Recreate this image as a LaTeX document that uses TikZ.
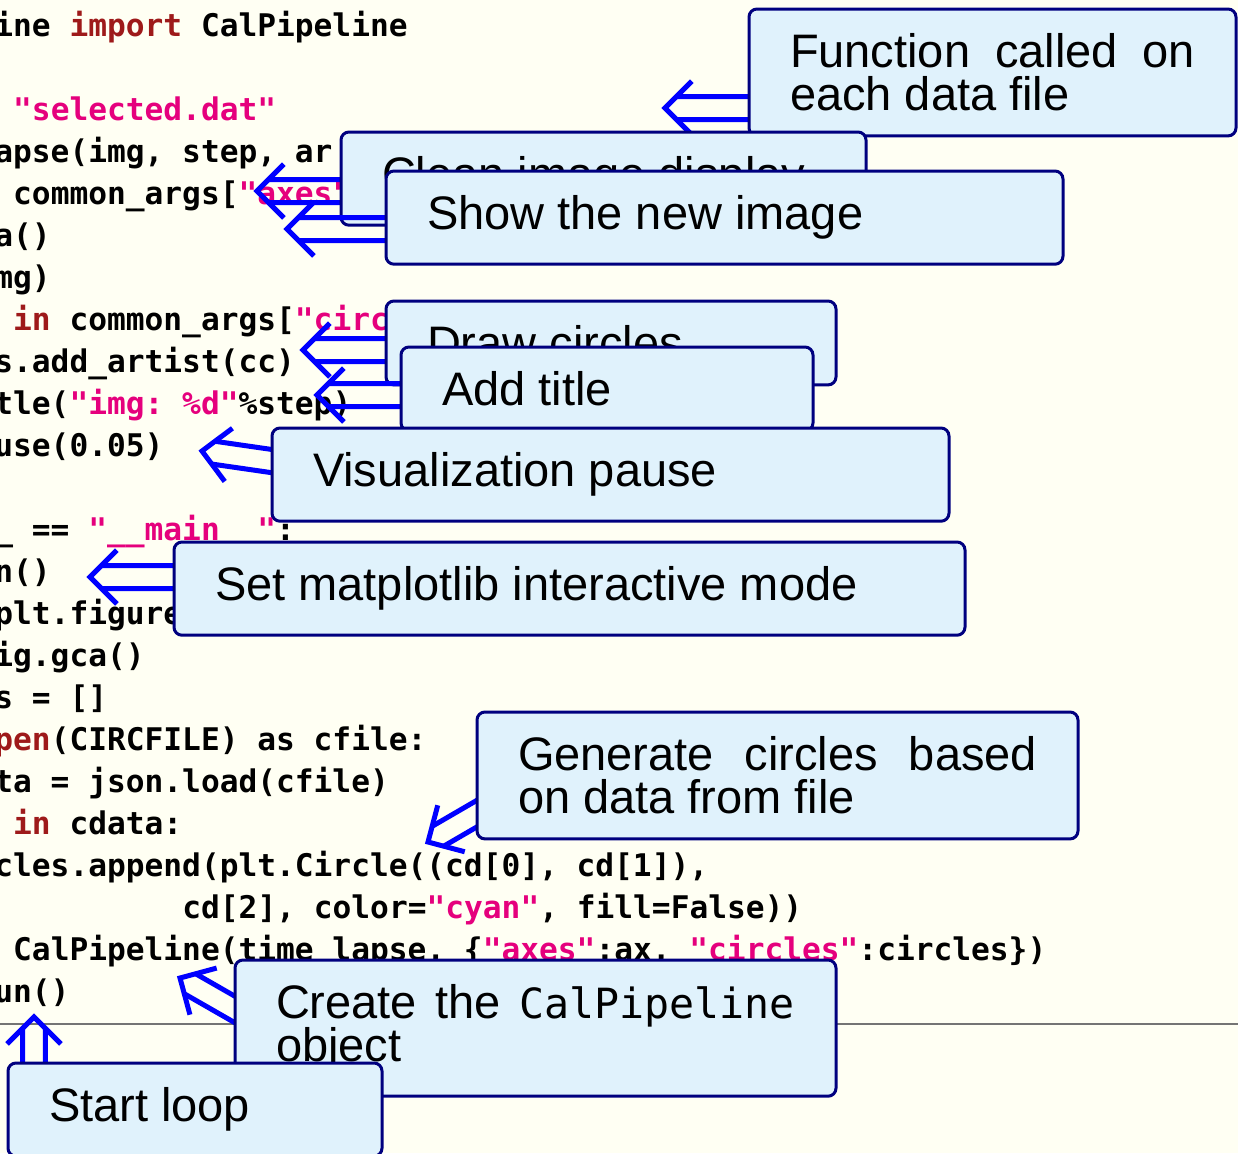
\documentclass[tikz,border=0pt]{standalone}
\usepackage{fontspec}
\setsansfont{Liberation Sans}
\setmonofont{DejaVu Sans Mono}
\usetikzlibrary{calc}
\definecolor{cBack}{HTML}{FFFFF3}
\definecolor{cBox}{HTML}{E0F2FC}
\definecolor{cEdge}{HTML}{00007F}
\definecolor{cArrow}{HTML}{0000FF}
\definecolor{cKey}{HTML}{9E1A1A}
\definecolor{cStr}{HTML}{E5007D}
\definecolor{cRule}{HTML}{747474}

\newcommand{\pykw}[1]{\textcolor{cKey}{#1}}
\newcommand{\pystr}[1]{\textcolor{cStr}{#1}}
\newcommand{\pipett}[1]{{\ttfamily\fontsize{20.8pt}{21.5pt}\selectfont #1}}
\newcommand{\calloutfont}{\sffamily\fontsize{23.5pt}{21.5pt}\selectfont
  \tolerance=9999\relax \hyphenpenalty=10000\relax}
% two parallel strokes and an open chevron, from #1 to #2
\newcommand{\twinarrow}[2]{%
  \draw[twin] ($(#1)!5.75pt!90:(#2)$) -- ($(#2)!8.13pt!-45:(#1)$);
  \draw[twin] ($(#1)!5.75pt!-90:(#2)$) -- ($(#2)!8.13pt!45:(#1)$);
  \draw[twin] ($(#2)!19pt!45:(#1)$) -- (#2) -- ($(#2)!19pt!-45:(#1)$);
}

\begin{document}
\begin{tikzpicture}[
    x=0.5pt, y=-0.5pt,
    codeline/.style={anchor=base west, inner sep=0pt, font=\ttfamily\bfseries\fontsize{15.6pt}{21pt}\selectfont},
    callbox/.style={anchor=north west, draw=cEdge, fill=cBox, line width=1.5pt, rounded corners=4pt, outer sep=0pt,
      inner xsep=20.5pt, inner ysep=12.35pt, align=justify, font=\calloutfont},
    twin/.style={draw=cArrow, line width=2.5pt},
    rulebar/.style={draw=cRule, line width=1pt}
]
\useasboundingbox (0,0) rectangle (1238,1153);
\fill[cBack] (0,0) rectangle (1238,1153);
\clip (0,0) rectangle (1238,1153);

% listing
\foreach \n/\k/\txt in {
  1/0/{ine \pykw{import} CalPipeline},
  3/1/{\pystr{"selected.dat"}},
  4/0/{apse(img, step, ar},
  5/1/{common\_args[\pystr{"axes"}},
  6/-1/{la()},
  7/0/{mg)},
  8/1/{\pykw{in} common\_args[\pystr{"circ}},
  9/0/{s.add\_artist(cc)},
  10/0/{tle(\pystr{"img: \%d"}\%step)},
  11/0/{use(0.05)},
  13/0/{\_ == \pystr{"\_\_main\_\_"}:},
  14/0/{n()},
  15/0/{plt.figure},
  16/0/{ig.gca()},
  17/0/{s = []},
  18/0/{\pykw{pen}(CIRCFILE) as cfile:},
  19/0/{ta = json.load(cfile)},
  20/1/{\pykw{in} cdata:},
  21/0/{cles.append(plt.Circle((cd[0], cd[1]),},
  22/10/{cd[2], color=\pystr{"cyan"}, fill=False))},
  23/1/{CalPipeline(time\_lapse, \{\pystr{"axes"}:ax, \pystr{"circles"}:circles\})},
  24/0/{un()}} {
  \node[codeline] (c\n) at ({-6+18.8*\k},{36+42*(\n-1)}) {\txt};
}
\draw[rulebar] (0,1024) -- (1238,1024);

% callouts, each arrow under its own box
\coordinate (a1s) at (760,108);  \coordinate (a1t) at (665,108);
\twinarrow{a1s}{a1t}
\node[callbox, text width=202.5pt] (fcall) at (749,9) {Function called on\linebreak each data file};

\coordinate (a2s) at (352,191);  \coordinate (a2t) at (257,191);
\twinarrow{a2s}{a2t}
\node[callbox, text width=221.5pt] (clean) at (341,132) {Clean image display};

\coordinate (a3s) at (397,229);  \coordinate (a3t) at (287,229);
\twinarrow{a3s}{a3t}
\node[callbox, text width=297.5pt] (show) at (386,171) {Show the new image};

\coordinate (a4s) at (397,350);  \coordinate (a4t) at (303,350);
\twinarrow{a4s}{a4t}
\node[callbox, text width=184pt] (circ) at (386,301) {Draw circles};

\coordinate (a5s) at (412,395);  \coordinate (a5t) at (317,395);
\twinarrow{a5s}{a5t}
\node[callbox, text width=165pt] (title) at (401,347) {Add title};

\coordinate (a6s) at (285,463);  \coordinate (a6t) at (202,451);
\twinarrow{a6s}{a6t}
\node[callbox, text width=297.5pt] (pause) at (272,428) {Visualization pause};

\coordinate (a7s) at (185,577);  \coordinate (a7t) at (90,577);
\twinarrow{a7s}{a7t}
\node[callbox, text width=354.5pt] (imode) at (174,542) {Set matplotlib interactive mode};

\coordinate (a8s) at (490,806);  \coordinate (a8t) at (428,842);
\twinarrow{a8s}{a8t}
\node[callbox, text width=259.5pt] (gen) at (477,712) {Generate circles based\linebreak on data from file};

\coordinate (a9s) at (248,1017); \coordinate (a9t) at (180,978);
\twinarrow{a9s}{a9t}
\node[callbox, text width=259.5pt] (create) at (235,960) {Create the \pipett{CalPipeline}\linebreak object};

\coordinate (a10s) at (34,1075); \coordinate (a10t) at (34,1017);
\twinarrow{a10s}{a10t}
\node[callbox, text width=146pt] (loop) at (8,1063) {Start loop};
\end{tikzpicture}
\end{document}
